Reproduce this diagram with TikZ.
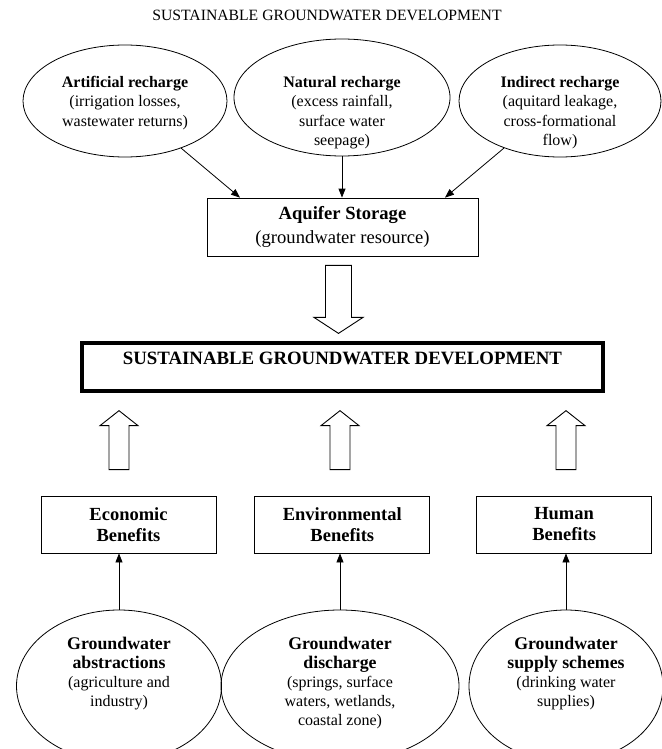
\documentclass[tikz,border=0pt]{standalone}
\usepackage{fontspec}
\setmainfont{Liberation Serif}
\usetikzlibrary{arrows.meta,positioning,shapes.geometric,calc}
\tikzset{%
  % Specifications for style of arrows:
   flow/.style={
           -{Triangle[length=9pt,width=7pt]},
           line width=0.8pt},
   hollow/.style={
           draw=black, fill=white,
           line width=0.9pt, line join=miter},
  % Specifications for style of nodes:
   recharge/.style = {ellipse, draw=black, line width=0.8pt,
                  minimum width=204pt, minimum height=112pt, inner sep=0pt},
   outflow/.style = {recharge, minimum height=152pt},
   txt/.style = {align=center, inner sep=0pt, anchor=north,
                  font=\fontsize{16}{19.5}\selectfont},
   store/.style = {rectangle, draw=black, line width=0.8pt,
                  minimum width=271pt, minimum height=58pt,
                  align=center, font=\fontsize{18.6}{24}\selectfont},
   goal/.style = {rectangle, draw=black, line width=3.3pt,
                  minimum width=521pt, minimum height=48pt,
                  text height=12pt, text depth=17.6pt,
                  font=\fontsize{18.8}{22}\selectfont\bfseries},
   benefit/.style = {rectangle, draw=black, line width=0.8pt,
                  minimum width=175pt, minimum height=57pt,
                  align=center, font=\fontsize{18.5}{21}\selectfont\bfseries},
}

\begin{document}
\begin{tikzpicture}[x=1pt, y=-1pt]
  \useasboundingbox (0,0) rectangle (661,749);

  % Specification of nodes (position, etc.)
  \node (Title_block) at (327,15) [font=\fontsize{15.7}{18}\selectfont] {SUSTAINABLE GROUNDWATER DEVELOPMENT};

  \node (Art_block) [recharge] at (125,101) {};
  \node (Nat_block) [recharge, minimum width=216pt, minimum height=117pt] at (342,97.5) {};
  \node (Ind_block) [recharge, minimum width=202pt] at (560,101) {};
  \node (Art_text) [txt] at (125,76) {\textbf{Artificial recharge}\\(irrigation losses,\\wastewater returns)};
  \node (Nat_text) [txt] at (342,76) {\textbf{Natural recharge}\\(excess rainfall,\\surface water\\seepage)};
  \node (Ind_text) [txt] at (560,76) {\textbf{Indirect recharge}\\(aquitard leakage,\\cross-formational\\flow)};

  \node (Aq_block) [store] at (342.5,227) {\textbf{Aquifer Storage}\\(groundwater resource)};
  \node (SGD_block) [goal] at (342.5,367) {SUSTAINABLE GROUNDWATER DEVELOPMENT};

  \node (Eco_block) [benefit] at (128.5,524.5) {Economic\\Benefits};
  \node (Env_block) [benefit, right=38pt of Eco_block] {Environmental\\Benefits};
  \node (Hum_block) [benefit, right=46pt of Env_block] {Human\\Benefits};

  \node (Abs_block) [outflow, minimum width=205pt] at (119,686) {};
  \node (Dis_block) [outflow, minimum width=238pt] at (340,686) {};
  \node (Sup_block) [outflow, minimum width=194pt] at (566,686) {};
  \node (Abs_text) [txt, font=\fontsize{16}{19}\selectfont] at (119,637) {{\fontsize{17.8}{19}\selectfont\bfseries Groundwater}\\{\fontsize{17.8}{19}\selectfont\bfseries abstractions}\\(agriculture and\\industry)};
  \node (Dis_text) [txt, font=\fontsize{16}{19}\selectfont] at (340,637) {{\fontsize{17.8}{19}\selectfont\bfseries Groundwater}\\{\fontsize{17.8}{19}\selectfont\bfseries discharge}\\(springs, surface\\waters, wetlands,\\coastal zone)};
  \node (Sup_text) [txt, font=\fontsize{16}{19}\selectfont] at (566,637) {{\fontsize{17.8}{19}\selectfont\bfseries Groundwater}\\{\fontsize{17.8}{19}\selectfont\bfseries supply schemes}\\(drinking water\\supplies)};

  % Recharge into storage
  \draw[flow] (Art_block) -- ([xshift=-102.5pt]Aq_block.north);
  \draw[flow] (Nat_block) -- (Nat_block |- Aq_block.north);
  \draw[flow] (Ind_block) -- ([xshift=102.5pt]Aq_block.north);

  % Storage to development
  \draw[hollow] ($(Aq_block.south)+(-17,9)$) -- ++(0,52) -- ++(-11.5,0) -- ++(24.5,16)
        -- ++(24.5,-16) -- ++(-11.5,0) -- ++(0,-52) -- cycle;

  % Benefits to development
  \foreach \n in {Abs_block,Dis_block,Sup_block}
    \draw[hollow] ($(\n |- SGD_block.south)+(0,18)$) -- ++(19,15) -- ++(-9,0) -- ++(0,44)
        -- ++(-20,0) -- ++(0,-44) -- ++(-9,0) -- cycle;

  % Uses to benefits
  \draw[flow] (Abs_block) -- (Abs_block |- Eco_block.south);
  \draw[flow] (Dis_block) -- (Dis_block |- Env_block.south);
  \draw[flow] (Sup_block) -- (Sup_block |- Hum_block.south);

\end{tikzpicture}
\end{document}
